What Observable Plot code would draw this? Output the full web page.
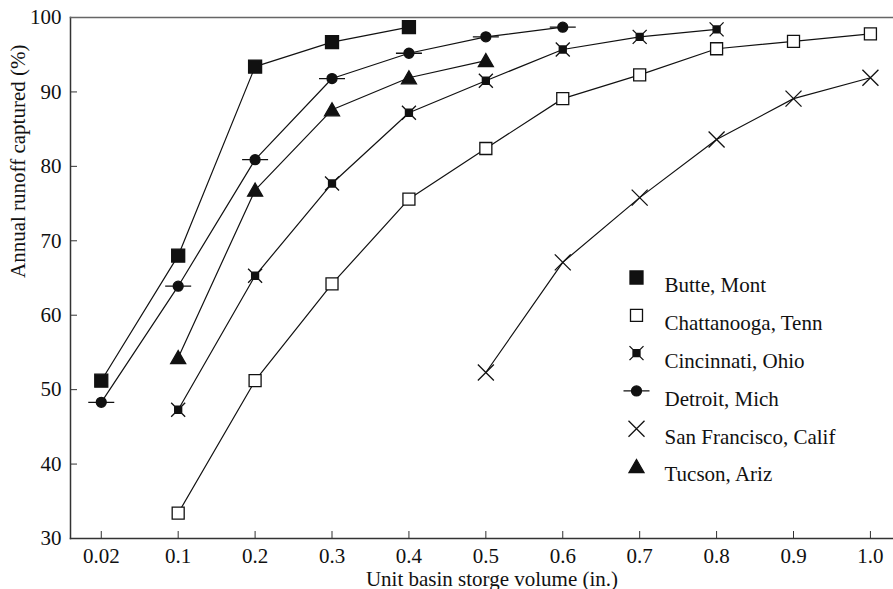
<!DOCTYPE html>
<html><head><meta charset="utf-8">
<script src="https://cdn.jsdelivr.net/npm/d3@7"></script>
<script src="https://cdn.jsdelivr.net/npm/@observablehq/plot@0.6"></script>
<style>
body{margin:0;background:#fff}
#chart svg, #chart svg text{font-family:"Liberation Serif","Times New Roman",serif !important;}
</style>
</head><body><div id="chart"></div>
<script>
// Data
const volumes = ["0.02","0.1","0.2","0.3","0.4","0.5","0.6","0.7","0.8","0.9","1.0"];
const yTicks = [30,40,50,60,70,80,90,100];
const seriesNames = ["Butte, Mont","Chattanooga, Tenn","Cincinnati, Ohio","Detroit, Mich","San Francisco, Calif","Tucson, Ariz"];
const butte        = [51.2, 68.0, 93.4, 96.7, 98.7, null, null, null, null, null, null];
const chattanooga  = [null, 33.4, 51.2, 64.2, 75.6, 82.4, 89.1, 92.3, 95.8, 96.8, 97.8];
const cincinnati   = [null, 47.3, 65.3, 77.7, 87.2, 91.5, 95.7, 97.4, 98.4, null, null];
const detroit      = [48.3, 63.9, 80.9, 91.8, 95.2, 97.4, 98.7, null, null, null, null];
const sanFrancisco = [null, null, null, null, null, 52.3, 67.1, 75.8, 83.6, 89.1, 91.9];
const tucson       = [null, 54.3, 76.8, 87.6, 91.9, 94.2, null, null, null, null, null];
const seriesValues = [butte, chattanooga, cincinnati, detroit, sanFrancisco, tucson];

// custom marker symbols
const sym = {
  "Butte, Mont": {draw(c){const h=6.5;c.rect(-h,-h,2*h,2*h);}},
  "Chattanooga, Tenn": {draw(c){const h=6;c.rect(-h,-h,2*h,2*h);}},
  "Cincinnati, Ohio": {draw(c){const a=7,s=3.5;c.moveTo(-a,-a);c.lineTo(a,a);c.moveTo(a,-a);c.lineTo(-a,a);c.rect(-s,-s,2*s,2*s);}},
  "Detroit, Mich": {draw(c){c.moveTo(5,0);c.arc(0,0,5,0,2*Math.PI);c.moveTo(-13,0);c.lineTo(13,0);}},
  "San Francisco, Calif": {draw(c){const a=8;c.moveTo(-a,-a);c.lineTo(a,a);c.moveTo(a,-a);c.lineTo(-a,a);}},
  "Tucson, Ariz": {draw(c){c.moveTo(0,-7);c.lineTo(7.5,6);c.lineTo(-7.5,6);c.closePath();}}
};
const fills = {"Butte, Mont":"#111","Chattanooga, Tenn":"white","Cincinnati, Ohio":"#111","Detroit, Mich":"#111","San Francisco, Calif":"none","Tucson, Ariz":"#111"};

const rows = [];
seriesNames.forEach((name, si) => {
  seriesValues[si].forEach((v, i) => { if (v != null) rows.push({series: name, xi: i, y: v}); });
});

const font = "Liberation Serif";
const fs = 21;
const legendMarks = [];
seriesNames.forEach((name, i) => {
  legendMarks.push(Plot.dot([name], {frameAnchor: "top-left", dx: 566, dy: 260 + i * 37.8, symbol: () => sym[name], r: 5, fill: fills[name], stroke: "#111", strokeWidth: 1.3}));
  legendMarks.push(Plot.text([name], {frameAnchor: "top-left", dx: 594, dy: 260 + i * 37.8, text: d => d, textAnchor: "start", fontSize: fs, fontFamily: font, fill: "#111"}));
});

const chart = Plot.plot({
  width: 893, height: 589,
  marginLeft: 70, marginRight: 0, marginTop: 17, marginBottom: 51,
  style: {fontFamily: font, fontSize: fs + "px", color: "#111", background: "white"},
  x: {type: "linear", domain: [-0.4, 10.3]},
  y: {domain: [30, 100]},
  marks: [
    Plot.axisX(d3.range(volumes.length), {tickSize: -7, tickPadding: 17, tickFormat: i => volumes[i], label: null, stroke: "#333", fontSize: fs, fontFamily: font}),
    Plot.axisY(yTicks, {tickSize: -7, tickPadding: 16, label: null, stroke: "#333", fontSize: fs, fontFamily: font}),
    Plot.frame({anchor: "left", stroke: "#333", strokeWidth: 1.5}),
    Plot.frame({anchor: "bottom", stroke: "#333", strokeWidth: 1.5}),
    Plot.frame({anchor: "top", stroke: "#666", strokeWidth: 1.5}),
    Plot.line(rows, {x: "xi", y: "y", z: "series", stroke: "#111", strokeWidth: 1.2}),
    ...seriesNames.map(name => Plot.dot(rows.filter(d => d.series === name), {x: "xi", y: "y", symbol: () => sym[name], r: 5, fill: fills[name], stroke: "#111", strokeWidth: 1.3})),
    ...legendMarks,
    Plot.text(["Unit basin storge volume (in.)"], {frameAnchor: "bottom", lineAnchor: "bottom", dy: 47, dx: 10, text: d => d, fontSize: fs, fontFamily: font, fill: "#111"}),
    Plot.text(["Annual runoff captured (%)"], {frameAnchor: "left", dx: -52, rotate: -90, text: d => d, fontSize: fs, fontFamily: font, fill: "#111"})
  ]
});
document.getElementById("chart").append(chart);
</script>
</body></html>
